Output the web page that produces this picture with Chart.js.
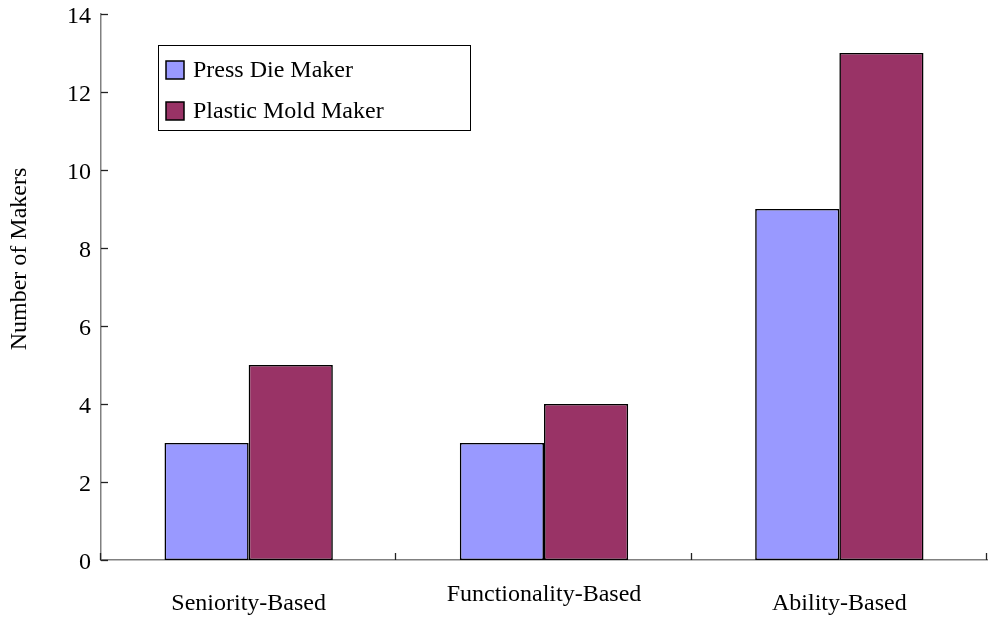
<!DOCTYPE html>
<html>
<head>
<meta charset="utf-8">
<title>Number of Makers by Evaluation Basis</title>
<script src="https://cdn.jsdelivr.net/npm/chart.js@4/dist/chart.umd.min.js"></script>
<style>
  html, body { margin: 0; padding: 0; background: #ffffff; }
  #wrap { width: 991px; height: 618px; }
</style>
</head>
<body>
<div id="wrap"><canvas id="c" width="991" height="618"></canvas></div>
<script>
// Categories along the horizontal axis
const categories = ['Seniority-Based', 'Functionality-Based', 'Ability-Based'];

// Series names and values (number of makers)
const seriesNames = ['Press Die Maker', 'Plastic Mold Maker'];
const pressDieMaker = [3, 3, 9];
const plasticMoldMaker = [5, 4, 13];

// Value axis ticks
const yTicks = [0, 2, 4, 6, 8, 10, 12, 14];
const yTitle = 'Number of Makers';

const FONT = '"Liberation Serif", "Times New Roman", serif';
const FONT_SIZE = 24;

// Inward tick marks, rotated axis title and a boxed legend
const decorPlugin = {
  id: 'decor',
  afterDatasetsDraw(chart) {
    const ctx = chart.ctx;
    const area = chart.chartArea;
    const x = chart.scales.x;
    const y = chart.scales.y;
    ctx.save();
    ctx.strokeStyle = '#222222';
    ctx.lineWidth = 1.3;
    // value-axis ticks pointing into the plot
    y.ticks.forEach((t, i) => {
      const py = Math.round(y.getPixelForTick(i)) + 0.5;
      ctx.beginPath();
      ctx.moveTo(area.left, py);
      ctx.lineTo(area.left + 7, py);
      ctx.stroke();
    });
    // category separators pointing up
    for (let i = 0; i <= categories.length; i++) {
      const px = Math.round(x.getPixelForValue(i - 0.5)) - 0.5;
      ctx.beginPath();
      ctx.moveTo(px, area.bottom);
      ctx.lineTo(px, area.bottom - 7);
      ctx.stroke();
    }
    ctx.restore();

    // rotated axis title
    ctx.save();
    ctx.font = FONT_SIZE + 'px ' + FONT;
    ctx.fillStyle = '#000000';
    ctx.textAlign = 'center';
    ctx.textBaseline = 'middle';
    ctx.translate(20, 259);
    ctx.rotate(-Math.PI / 2);
    ctx.fillText(yTitle, 0, 0);
    ctx.restore();

    // legend box
    ctx.save();
    const bx = 158.5, by = 45.5, bw = 312, bh = 85;
    ctx.fillStyle = '#ffffff';
    ctx.fillRect(bx, by, bw, bh);
    ctx.strokeStyle = '#000000';
    ctx.lineWidth = 1;
    ctx.strokeRect(bx, by, bw, bh);
    ctx.font = FONT_SIZE + 'px ' + FONT;
    ctx.textBaseline = 'middle';
    ctx.textAlign = 'left';
    chart.data.datasets.forEach((ds, i) => {
      const cy = 70 + i * 41;
      ctx.fillStyle = ds.backgroundColor;
      ctx.fillRect(166, cy - 9, 18, 18);
      ctx.strokeStyle = '#000000';
      ctx.lineWidth = 1.5;
      ctx.strokeRect(166, cy - 9, 18, 18);
      ctx.fillStyle = '#000000';
      ctx.fillText(ds.label, 193, cy + 1);
    });
    ctx.restore();
  }
};

new Chart(document.getElementById('c'), {
  type: 'bar',
  data: {
    labels: categories,
    datasets: [
      {
        label: seriesNames[0],
        data: pressDieMaker,
        backgroundColor: '#9999FF',
        borderColor: '#000000',
        borderWidth: 1.6,
        borderSkipped: false
      },
      {
        label: seriesNames[1],
        data: plasticMoldMaker,
        backgroundColor: '#993366',
        borderColor: '#000000',
        borderWidth: 1.6,
        borderSkipped: false
      }
    ]
  },
  options: {
    responsive: false,
    devicePixelRatio: 1,
    animation: false,
    categoryPercentage: 0.57,
    barPercentage: 1.0,
    layout: { padding: { left: 0, top: 14, right: 4, bottom: 0 } },
    plugins: {
      legend: { display: false },
      tooltip: { enabled: false }
    },
    scales: {
      x: {
        grid: { display: false, drawTicks: false },
        border: { display: true, color: '#808080', width: 1.5 },
        ticks: {
          color: '#000000',
          padding: 10,
          maxRotation: 0,
          autoSkip: false,
          font: (c) => ({
            family: FONT,
            size: FONT_SIZE,
            lineHeight: c.index === 1 ? '50px' : '68px'
          })
        },
        afterFit(scale) {
          scale.height = 58;
          scale.paddingLeft = 0;
          scale.paddingRight = 0;
        }
      },
      y: {
        min: yTicks[0],
        max: yTicks[yTicks.length - 1],
        grid: { display: false, drawTicks: false },
        border: { display: true, color: '#808080', width: 1.5 },
        ticks: {
          stepSize: yTicks[1] - yTicks[0],
          color: '#000000',
          padding: 10,
          // a short empty first line sets each number slightly below its tick
          callback: (v) => ['', String(v)],
          font: { family: FONT, size: FONT_SIZE, lineHeight: '6px' }
        },
        afterFit(scale) {
          scale.width = 101;
          scale.paddingTop = 0;
          scale.paddingBottom = 0;
        }
      }
    }
  },
  plugins: [decorPlugin]
});
</script>
</body>
</html>
